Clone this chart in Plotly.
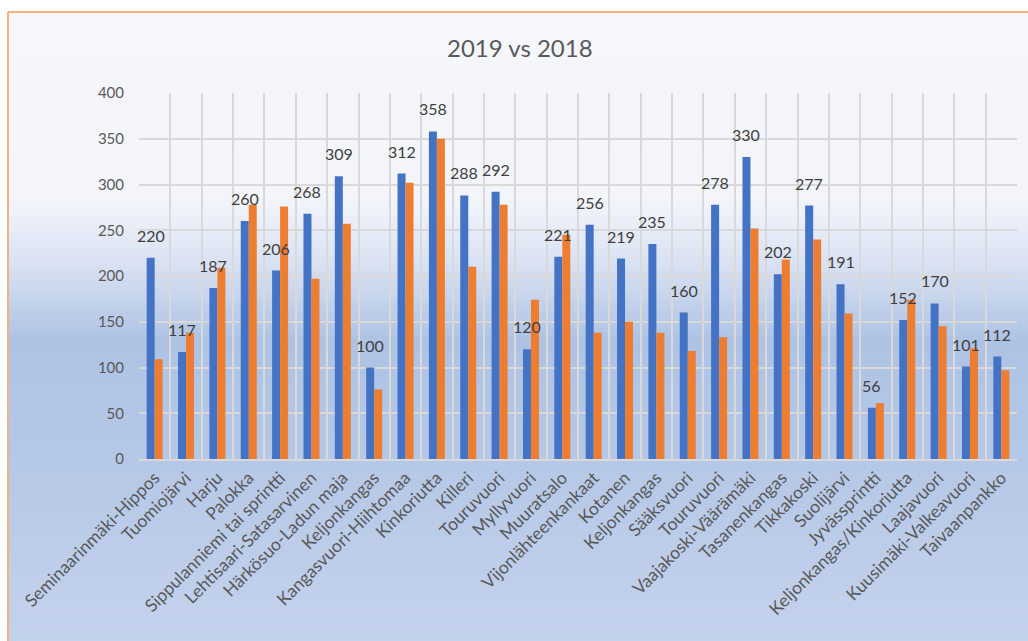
import plotly.graph_objects as go

categories = [
    "Seminaarinmäki-Hippos", "Tuomiojärvi", "Harju", "Palokka",
    "Sippulanniemi tai sprintti", "Lehtisaari-Satasarvinen", "Härkösuo-Ladun maja",
    "Keljonkangas", "Kangasvuori-Hiihtomaa", "Kinkoriutta", "Killeri", "Touruvuori",
    "Myllyvuori", "Muuratsalo", "Vijonlähteenkankaat", "Kotanen", "Keljonkangas",
    "Sääksvuori", "Touruvuori", "Vaajakoski-Väärämäki", "Tasanenkangas", "Tikkakoski",
    "Suolijärvi", "Jyvässprintti", "Keljonkangas/Kinkoriutta", "Laajavuori",
    "Kuusimäki-Valkeavuori", "Taivaanpankko",
]
values_2019 = [220, 117, 187, 260, 206, 268, 309, 100, 312, 358, 288, 292, 120, 221,
               256, 219, 235, 160, 278, 330, 202, 277, 191, 56, 152, 170, 101, 112]
values_2018 = [109, 138, 209, 278, 276, 197, 257, 76, 302, 350, 210, 278, 174, 245,
               138, 150, 138, 118, 133, 252, 218, 240, 159, 61, 174, 145, 121, 97]
y_ticks = [0, 50, 100, 150, 200, 250, 300, 350, 400]
title_text = "2019 vs 2018"

W, H = 1028, 641
L, R, T, B = 139, 1017, 93, 459
PW, PH = R - L, B - T


def xp(px):
    return (px - L) / PW


def yp(py):
    return (B - py) / PH


def hex2rgb(h):
    h = h.lstrip("#")
    return tuple(int(h[i:i + 2], 16) for i in (0, 2, 4))


stops = [(12, "#f5f7fc"), (200, "#f3f5fb"), (265, "#d8e1f2"), (340, "#aec3e4"),
         (430, "#b3c6e6"), (641, "#c4d2ec")]


def color_at(py):
    for (y0, c0), (y1, c1) in zip(stops[:-1], stops[1:]):
        if y0 <= py <= y1:
            t = (py - y0) / (y1 - y0)
            a, b = hex2rgb(c0), hex2rgb(c1)
            return "rgb(%d,%d,%d)" % tuple(round(a[i] + (b[i] - a[i]) * t) for i in range(3))
    return stops[-1][1]


shapes = []
step = 4
py = 12
while py < H:
    shapes.append(dict(type="rect", xref="paper", yref="paper", layer="below",
                       x0=xp(8), x1=xp(W + 2), y0=yp(py), y1=yp(min(py + step + 1, H + 2)),
                       line=dict(width=0), fillcolor=color_at(py + step / 2)))
    py += step

border = "#f4b183"
shapes.append(dict(type="line", xref="paper", yref="paper", layer="above",
                   x0=xp(8), x1=xp(8), y0=yp(12), y1=yp(H + 5), line=dict(color=border, width=2)))
shapes.append(dict(type="line", xref="paper", yref="paper", layer="above",
                   x0=xp(8), x1=xp(W + 5), y0=yp(12), y1=yp(12), line=dict(color=border, width=2)))

x = list(range(len(categories)))
font = "Lato, 'Open Sans', sans-serif"

fig = go.Figure()
fig.add_trace(go.Bar(x=x, y=values_2019, name="2019", marker=dict(color="#4472c4", line=dict(width=0))))
fig.add_trace(go.Bar(x=x, y=values_2018, name="2018", marker=dict(color="#ed7d31", line=dict(width=0))))

annotations = []
for xi, v in zip(x, values_2019):
    annotations.append(dict(x=xi, y=v, xref="x", yref="y", text=str(v), showarrow=False,
                            xshift=-4, yshift=11, yanchor="bottom",
                            font=dict(family=font, size=16, color="#404040")))
annotations.append(dict(x=xp(520), y=yp(47), xref="paper", yref="paper", text=title_text,
                        showarrow=False, xanchor="center", yanchor="middle",
                        font=dict(family=font, size=24, color="#595959")))

fig.update_layout(
    width=W, height=H,
    margin=dict(l=L, r=W - R, t=T, b=H - B, pad=0),
    paper_bgcolor="white", plot_bgcolor="rgba(0,0,0,0)",
    barmode="group", bargap=0.49, bargroupgap=0,
    showlegend=False,
    shapes=shapes, annotations=annotations,
    font=dict(family=font, color="#595959"),
)
fig.update_xaxes(
    range=[-0.5, len(categories) - 0.5],
    tickmode="array", tickvals=x, ticktext=categories, tickangle=-45,
    tickfont=dict(family=font, size=17.5, color="#595959"),
    showgrid=False, zeroline=False, ticks="",
    minor=dict(tickmode="linear", tick0=-0.5, dtick=1, showgrid=True,
               gridcolor="#d9d9d9", gridwidth=1.5, ticks=""),
    showline=True, linecolor="#d9d9d9", linewidth=1.5, mirror=False,
)
fig.update_yaxes(
    range=[0, 400], tickmode="array", tickvals=y_ticks,
    tickfont=dict(family=font, size=15, color="#595959"),
    showgrid=True, gridcolor="#d9d9d9", gridwidth=1.5, zeroline=False,
    ticklabelstandoff=14, showline=False,
)

fig.write_html(
    "out.html",
    config={"displayModeBar": False},
    post_script="document.body.style.margin='0';document.body.style.overflow='hidden';",
)
